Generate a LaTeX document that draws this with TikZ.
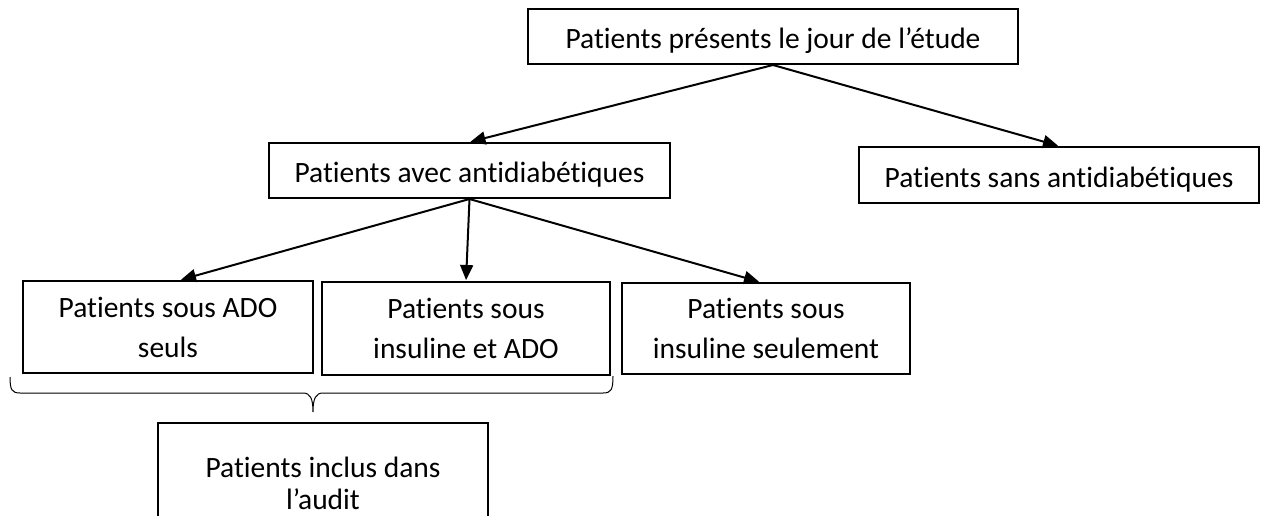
\documentclass[tikz,border=0pt]{standalone}
\usepackage{fontspec}
\setmainfont[Ligatures={NoCommon}]{Carlito}
\usetikzlibrary{arrows.meta}
\begin{document}
\begin{tikzpicture}[x=1pt,y=-1pt,
  box/.style={draw, line width=2pt, inner sep=0pt, align=center, font=\fontsize{29.5}{40}\selectfont},
  onebox/.style={box, text height=29pt, text depth=5pt},
  arr/.style={line width=2pt, -{Triangle[length=15pt,width=13pt]}, shorten >=1pt},
  bracepath/.style={line width=1pt}]
\useasboundingbox (0,0) rectangle (1261,515);
\clip (0,0) rectangle (1261,515);
\node[onebox, minimum width=490, minimum height=55] (top) at (773,36.5) {Patients présents le jour de l’étude};
\node[onebox, minimum width=401, minimum height=55] (avec) at (469.5,170.5) {Patients avec antidiabétiques};
\node[onebox, minimum width=400, minimum height=56] (sans) at (1059,175) {Patients sans antidiabétiques};
\node[box, minimum width=290, minimum height=92] (seuls) at (168,327) {Patients sous ADO\\seuls};
\node[box, minimum width=288, minimum height=93] (insado) at (466,328.5) {Patients sous\\insuline et ADO};
\node[box, minimum width=288, minimum height=91] (insseul) at (766,328.5) {Patients sous\\insuline seulement};
\node[box, minimum width=330, minimum height=120, font=\fontsize{29.5}{32}\selectfont] (inclus) at (323,483) {Patients inclus dans\\l’audit};
\draw[arr] (top.south) -- (avec.north);
\draw[arr] (top.south) -- (sans.north);
\draw[arr] (avec.south) -- ([xshift=12]seuls.north);
\draw[arr] (avec.south) -- (insado.north);
\draw[arr] (avec.south) -- ([xshift=-6]insseul.north);
\coordinate (bl) at (10,377);
\coordinate (bt) at (313,412);
\coordinate (br) at (613,376);
\draw[bracepath] (bl) .. controls (10,390) and (12,393) .. (20,393) -- (303,393)
  .. controls (310,393) and (313,398) .. (bt)
  .. controls (313,398) and (316,393) .. (323,393) -- (603,393)
  .. controls (611,393) and (613,390) .. (br);
\end{tikzpicture}
\end{document}
